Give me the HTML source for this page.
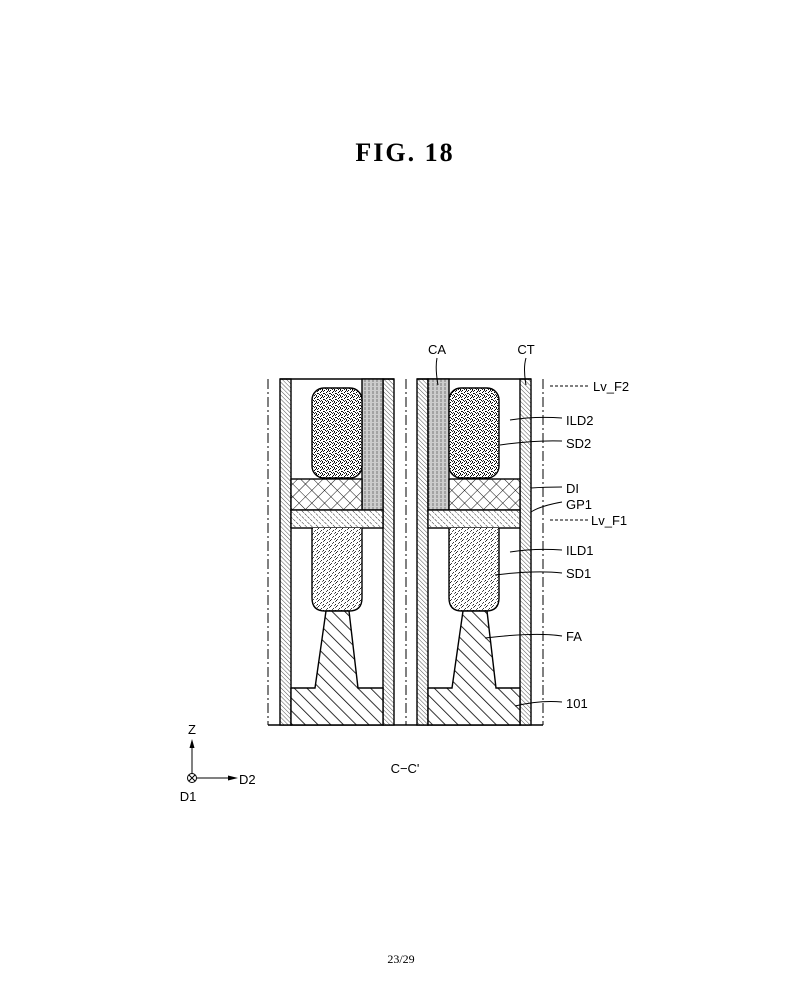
<!DOCTYPE html>
<html><head><meta charset="utf-8"><style>
html,body{margin:0;padding:0;background:#fff;}
svg{display:block;}
text{font-family:"Liberation Sans",sans-serif;font-size:13px;fill:#000;}
</style></head><body>
<svg width="800" height="1000" viewBox="0 0 800 1000" xmlns="http://www.w3.org/2000/svg">
<defs>
<pattern id="wall" width="3" height="3" patternUnits="userSpaceOnUse" patternTransform="rotate(-45)">
<rect width="3" height="3" fill="#fff"/><line x1="0" y1="0" x2="0" y2="3" stroke="#555" stroke-width="1"/></pattern>
<pattern id="hatch" width="9" height="9" patternUnits="userSpaceOnUse" patternTransform="rotate(-45)">
<rect width="9" height="9" fill="#fff"/><line x1="0" y1="0" x2="0" y2="9" stroke="#000" stroke-width="1.6"/></pattern>
<pattern id="cross" width="9" height="9" patternUnits="userSpaceOnUse" patternTransform="rotate(45)">
<rect width="9" height="9" fill="#fff"/><line x1="0" y1="0" x2="0" y2="9" stroke="#111" stroke-width="1"/><line x1="0" y1="0" x2="9" y2="0" stroke="#111" stroke-width="1"/></pattern>
<pattern id="gp" width="4" height="4" patternUnits="userSpaceOnUse" patternTransform="rotate(-45)">
<rect width="4" height="4" fill="#fff"/><line x1="0" y1="0" x2="0" y2="4" stroke="#222" stroke-width="1" stroke-dasharray="1.5,1"/></pattern>
<pattern id="ca" width="4" height="4" patternUnits="userSpaceOnUse">
<rect width="4" height="4" fill="#ccc"/><line x1="1" y1="0" x2="1" y2="4" stroke="#777" stroke-width="1" stroke-dasharray="2,1"/></pattern>
<pattern id="dots" width="6" height="6" patternUnits="userSpaceOnUse">
<rect width="6" height="6" fill="#fff"/>
<rect x="0" y="0" width="1" height="1" fill="#000"/><rect x="3" y="1" width="1" height="1" fill="#000"/><rect x="5" y="3" width="1" height="1" fill="#000"/><rect x="1" y="4" width="1" height="1" fill="#000"/><rect x="4" y="5" width="1" height="1" fill="#000"/><rect x="2" y="2" width="1" height="1" fill="#000"/><rect x="5" y="1" width="1" height="1" fill="#222"/><rect x="2" y="5" width="1" height="1" fill="#222"/><rect x="4" y="0" width="1" height="1" fill="#222"/><rect x="0" y="3" width="1" height="1" fill="#222"/><rect x="3" y="4" width="1" height="1" fill="#333"/></pattern>
<pattern id="dots2" width="6" height="6" patternUnits="userSpaceOnUse">
<rect width="6" height="6" fill="#fff"/>
<rect x="0" y="0" width="1" height="1" fill="#222"/><rect x="3" y="2" width="1" height="1" fill="#333"/><rect x="5" y="4" width="1" height="1" fill="#222"/><rect x="1" y="5" width="1" height="1" fill="#444"/><rect x="5" y="1" width="1" height="1" fill="#555"/><rect x="2" y="3" width="1" height="1" fill="#555"/><rect x="4" y="5" width="1" height="1" fill="#777"/></pattern>
</defs>

<text x="405" y="161" text-anchor="middle" style="font-family:'Liberation Serif',serif;font-size:26px;font-weight:bold;letter-spacing:2px">FIG.  18</text>

<g stroke="#000" stroke-width="1" stroke-dasharray="10,3,2,3">
<line x1="268" y1="379" x2="268" y2="725"/><line x1="406" y1="379" x2="406" y2="725"/><line x1="543" y1="379" x2="543" y2="725"/>
</g>
<line x1="268" y1="725" x2="543" y2="725" stroke="#000" stroke-width="1.5"/>

<g stroke="#000" stroke-width="1.4">
<rect x="280" y="379" width="11" height="346" fill="url(#wall)"/>
<rect x="383" y="379" width="11" height="346" fill="url(#wall)"/>
<line x1="280" y1="379" x2="394" y2="379"/>
<rect x="362" y="379" width="21" height="131" fill="url(#ca)"/>
<rect x="291" y="479" width="71" height="31" fill="url(#cross)"/>
<rect x="291" y="510" width="92" height="18" fill="url(#gp)"/>
<rect x="312" y="388" width="50" height="90" rx="12" fill="url(#dots)"/>
<path d="M312,528 V598 Q312,611 325,611 H349 Q362,611 362,598 V528" fill="url(#dots2)"/>
<path d="M291,725 V688 H315 L326,611 H349 L358,688 H383 V725 Z" fill="url(#hatch)"/>
</g>

<g stroke="#000" stroke-width="1.4">
<rect x="417" y="379" width="11" height="346" fill="url(#wall)"/>
<rect x="520" y="379" width="11" height="346" fill="url(#wall)"/>
<line x1="417" y1="379" x2="531" y2="379"/>
<rect x="428" y="379" width="21" height="131" fill="url(#ca)"/>
<rect x="449" y="479" width="71" height="31" fill="url(#cross)"/>
<rect x="428" y="510" width="92" height="18" fill="url(#gp)"/>
<rect x="449" y="388" width="50" height="90" rx="12" fill="url(#dots)"/>
<path d="M449,528 V598 Q449,611 462,611 H486 Q499,611 499,598 V528" fill="url(#dots2)"/>
<path d="M428,725 V688 H452 L463,611 H487 L496,688 H520 V725 Z" fill="url(#hatch)"/>
</g>

<text x="437" y="354" text-anchor="middle">CA</text>
<text x="526" y="354" text-anchor="middle">CT</text>
<g fill="none" stroke="#000" stroke-width="1">
<path d="M437,358 Q435,368 438,385"/>
<path d="M526,358 Q523,368 526,385"/>
<path d="M510,420 Q535,416 562,418"/>
<path d="M500,445 Q535,440 562,441"/>
<path d="M531,488 Q545,487 562,487"/>
<path d="M531,512 Q540,506 562,502"/>
<path d="M510,552 Q535,548 562,550"/>
<path d="M495,575 Q535,570 562,573"/>
<path d="M485,638 Q535,632 562,636"/>
<path d="M515,706 Q540,700 562,702"/>
</g>
<g stroke="#000" stroke-width="1" stroke-dasharray="3,2">
<line x1="550" y1="386" x2="590" y2="386"/>
<line x1="550" y1="520" x2="588" y2="520"/>
</g>
<text x="593" y="391">Lv_F2</text>
<text x="566" y="425">ILD2</text>
<text x="566" y="448">SD2</text>
<text x="566" y="493">DI</text>
<text x="566" y="509">GP1</text>
<text x="591" y="525">Lv_F1</text>
<text x="566" y="555">ILD1</text>
<text x="566" y="578">SD1</text>
<text x="566" y="641">FA</text>
<text x="566" y="708">101</text>

<text x="405" y="773" text-anchor="middle">C−C'</text>

<line x1="192" y1="774" x2="192" y2="745" stroke="#000" stroke-width="1"/>
<path d="M192,739 L189.5,748 L194.5,748 Z" fill="#000"/>
<line x1="197" y1="778" x2="235" y2="778" stroke="#000" stroke-width="1"/>
<path d="M238,778 L228,775.5 L228,780.5 Z" fill="#000"/>
<circle cx="192" cy="778" r="4.5" fill="#fff" stroke="#000" stroke-width="1"/>
<path d="M189,775 L195,781 M195,775 L189,781" stroke="#000" stroke-width="1"/>
<text x="192" y="734" text-anchor="middle">Z</text>
<text x="239" y="784">D2</text>
<text x="188" y="801" text-anchor="middle">D1</text>

<text x="401" y="963" text-anchor="middle" style="font-family:'Liberation Serif',serif;font-size:12px">23/29</text>
</svg>
</body></html>
